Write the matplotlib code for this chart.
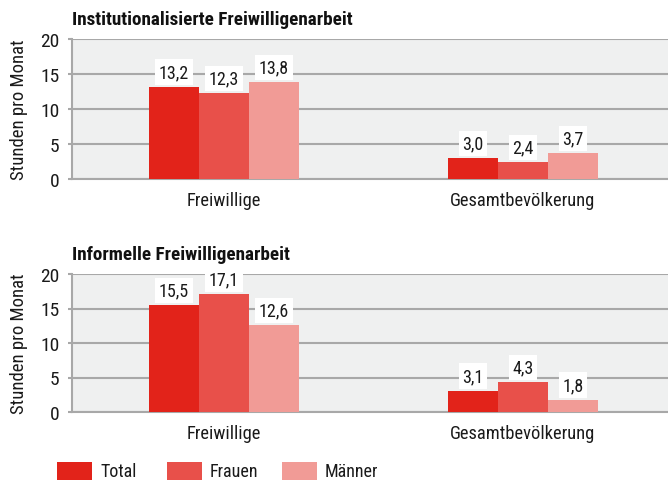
import matplotlib
matplotlib.use("Agg")
import matplotlib.pyplot as plt
from matplotlib.patches import Rectangle
import numpy as np

plt.rcParams['font.family'] = ['Roboto Condensed', 'DejaVu Sans']

categories = ["Freiwillige", "Gesamtbevölkerung"]
series = ["Total", "Frauen", "Männer"]
colors = ["#e2231a", "#e8504a", "#f19b96"]
titles = ["Institutionalisierte Freiwilligenarbeit", "Informelle Freiwilligenarbeit"]
inst_values = [[13.2, 3.0], [12.3, 2.4], [13.8, 3.7]]
info_values = [[15.5, 3.1], [17.1, 4.3], [12.6, 1.8]]
yticks = [0, 5, 10, 15, 20]

W, H = 668, 481
fig = plt.figure(figsize=(W / 100, H / 100), dpi=100)

def px_axes(x0, y0, x1, y1):
    return fig.add_axes([x0 / W, 1 - y1 / H, (x1 - x0) / W, (y1 - y0) / H])

bw = 50 / 299
xpos = np.arange(len(categories))
grid_c = "#a8a8a8"
txt_c = "#1a1a1a"

for (top, bot), title, vals in zip([(40, 180), (275, 413)], titles, [inst_values, info_values]):
    ax = px_axes(72, top, 668, bot)
    ax.set_facecolor("#eff0f0")
    ax.set_xlim(-0.508, 1.485)
    ax.set_ylim(0, 20)
    ax.set_yticks(yticks)
    ax.set_yticklabels([str(t) for t in yticks], fontsize=14, color=txt_c)
    ax.yaxis.grid(True, color=grid_c, lw=1.5)
    ax.set_axisbelow(True)
    for s in ["top", "right"]:
        ax.spines[s].set_visible(False)
    for s in ["left", "bottom"]:
        ax.spines[s].set_color(grid_c)
        ax.spines[s].set_linewidth(1.5)
    ax.tick_params(axis="y", length=3, width=1.5, color=grid_c, pad=6)
    ax.tick_params(axis="x", length=0, pad=9)
    ax.set_xticks(xpos)
    ax.set_xticklabels(categories, fontsize=13.3, color=txt_c)
    ax.set_ylabel("Stunden pro Monat", fontsize=13.5, color=txt_c, labelpad=9)
    for i, (name, c) in enumerate(zip(series, colors)):
        xs = xpos + (i - 1) * bw
        ax.bar(xs, vals[i], width=bw, color=c, zorder=3)
        for x, v in zip(xs, vals[i]):
            ax.annotate(f"{v:.1f}".replace(".", ","), (x, v), xytext=(0, 4),
                        textcoords="offset points", ha="center", va="bottom",
                        fontsize=13, color=txt_c, zorder=4,
                        bbox=dict(boxstyle="square,pad=0.2", fc="white", ec="none"))
    fig.text(72 / W, 1 - (top - 20) / H, title, fontsize=13.8, fontweight="bold",
             ha="left", va="center", color="#111111")

# legend
leg_x = [57, 167, 282]
for x, name, c in zip(leg_x, series, colors):
    fig.add_artist(Rectangle((x / W, 0), 35 / W, 18 / H, transform=fig.transFigure,
                             color=c, lw=0))
    fig.text((x + 43) / W, 1 - 472 / H, name, fontsize=13, ha="left", va="center",
             color=txt_c)

fig.savefig("out.png", dpi=100)
